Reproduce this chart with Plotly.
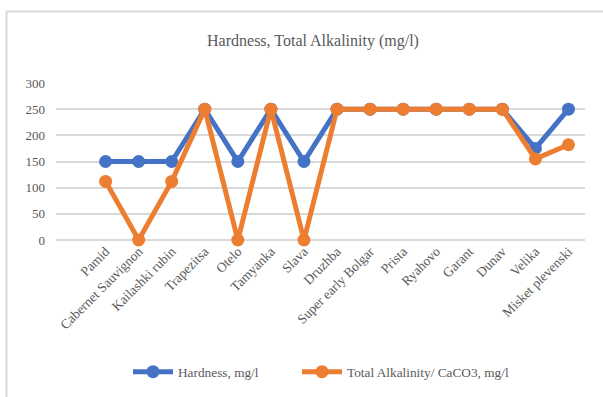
import plotly.graph_objects as go

# Grape varieties and their water-quality measurements (mg/l)
varieties = [
    "Pamid", "Cabernet Sauvignon", "Kailashki rubin", "Trapezitsa", "Otelo",
    "Tamyanka", "Slava", "Druzhba", "Super early Bolgar", "Prista",
    "Ryahovo", "Garant", "Dunav", "Velika", "Misket plevenski",
]
hardness = [150, 150, 150, 250, 150, 250, 150, 250, 250, 250, 250, 250, 250, 175, 250]
alkalinity = [112, 0, 112, 250, 0, 250, 0, 250, 250, 250, 250, 250, 250, 155, 182]
y_ticks = [0, 50, 100, 150, 200, 250, 300]

BLUE = "#4472C4"
ORANGE = "#ED7D31"
TEXT = "#595959"
GRID = "#D9D9D9"
FONT = "Liberation Serif"

fig = go.Figure()
fig.add_trace(go.Scatter(
    x=varieties, y=hardness, name="Hardness, mg/l",
    mode="lines+markers",
    line=dict(color=BLUE, width=5),
    marker=dict(color=BLUE, size=13),
    cliponaxis=False,
    legend="legend",
))
fig.add_trace(go.Scatter(
    x=varieties, y=alkalinity, name="Total Alkalinity/ CaCO3, mg/l",
    mode="lines+markers",
    line=dict(color=ORANGE, width=5),
    marker=dict(color=ORANGE, size=13),
    cliponaxis=False,
    legend="legend2",
))

legend_style = dict(
    orientation="h",
    xref="container", yref="container",
    xanchor="left",
    y=1 - 372 / 397, yanchor="middle",
    font=dict(family=FONT, size=13.3, color=TEXT),
    itemwidth=40,
    bgcolor="rgba(0,0,0,0)",
)

fig.update_layout(
    width=603, height=397,
    margin=dict(l=56, r=18, t=83, b=157),
    paper_bgcolor="white", plot_bgcolor="white",
    font=dict(family=FONT, color=TEXT, size=13),
    title=dict(
        text="Hardness, Total Alkalinity (mg/l)",
        x=313 / 603, xanchor="center", xref="container",
        y=1 - 40 / 397, yanchor="middle", yref="container",
        font=dict(family=FONT, size=16, color=TEXT),
    ),
    legend=dict(legend_style, x=128 / 603),
    legend2=dict(legend_style, x=297 / 603),
    showlegend=True,
    shapes=[
        # outer chart frame (top and left edges)
        dict(type="line", xref="paper", yref="paper",
             x0=(6.5 - 56) / 529, x1=(603 - 56) / 529,
             y0=(240 - 11.5) / 157, y1=(240 - 11.5) / 157,
             line=dict(color=GRID, width=2)),
        dict(type="line", xref="paper", yref="paper",
             x0=(6.5 - 56) / 529, x1=(6.5 - 56) / 529,
             y0=(240 - 11.5) / 157, y1=(240 - 397) / 157,
             line=dict(color=GRID, width=2)),
    ],
)

fig.update_xaxes(
    type="category",
    range=[-1.5, 14.5],
    tickangle=-45,
    tickfont=dict(family=FONT, size=13.5, color=TEXT),
    showgrid=False,
    showline=False,
    ticks="",
    zeroline=False,
)
fig.update_yaxes(
    range=[0, 300],
    tickvals=y_ticks,
    tickfont=dict(family=FONT, size=13, color=TEXT),
    showgrid=True, gridcolor=GRID, gridwidth=1.5,
    zeroline=True, zerolinecolor=GRID, zerolinewidth=1.5,
    showline=False,
    ticklabelstandoff=10,
)

fig.write_html("out.html")
